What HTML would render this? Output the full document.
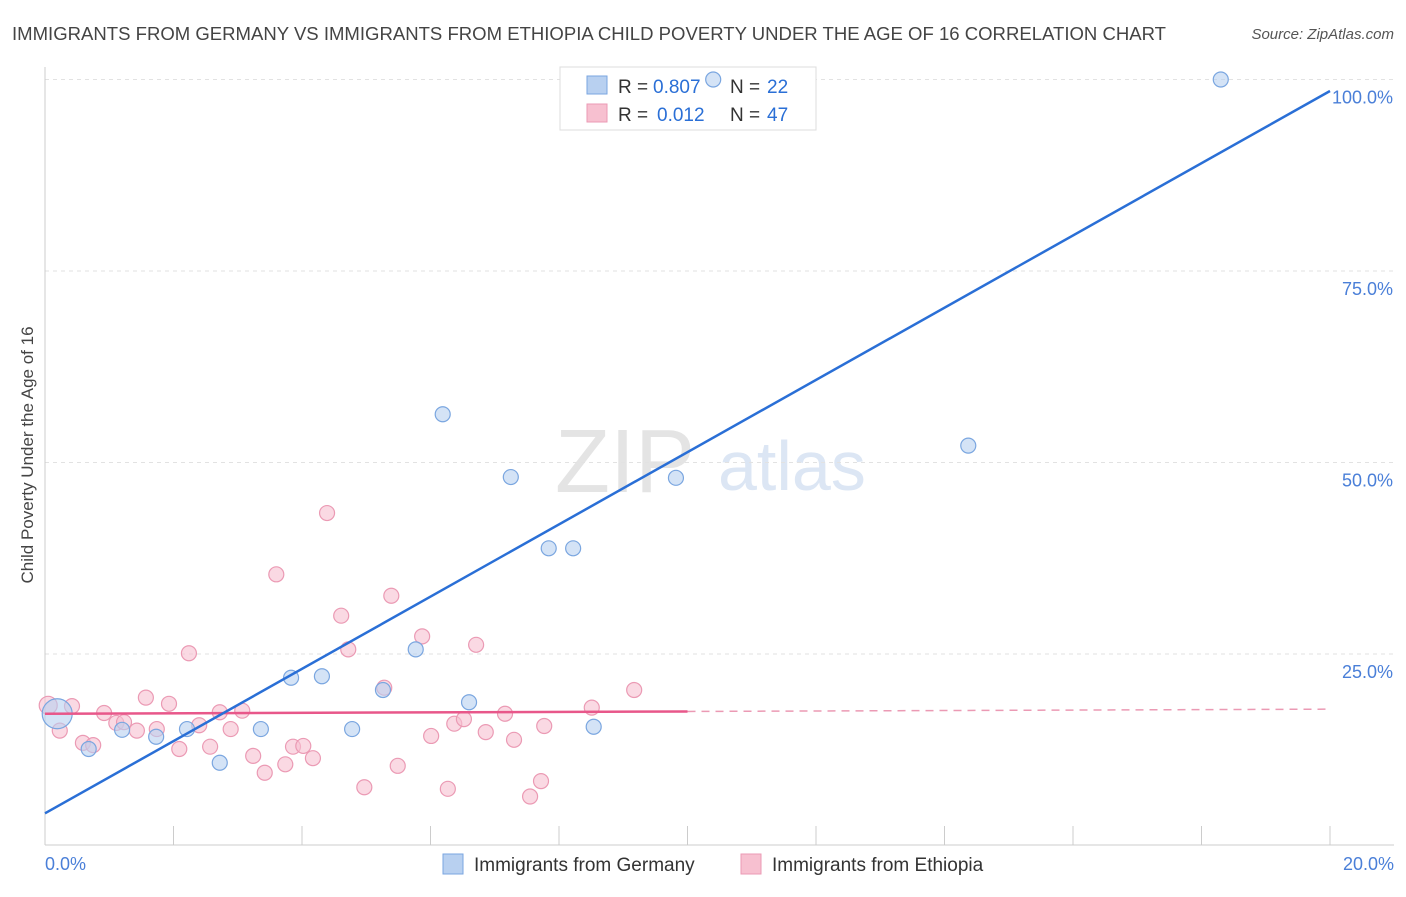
<!DOCTYPE html>
<html><head><meta charset="utf-8">
<style>
body{margin:0;background:#fff;font-family:"Liberation Sans",sans-serif;}
svg text{font-family:"Liberation Sans",sans-serif;}
</style></head>
<body>
<svg id="chart" width="1406" height="892" xmlns="http://www.w3.org/2000/svg">
<text x="12" y="40" font-size="18.6" fill="#444" textLength="1154" lengthAdjust="spacingAndGlyphs">IMMIGRANTS FROM GERMANY VS IMMIGRANTS FROM ETHIOPIA CHILD POVERTY UNDER THE AGE OF 16 CORRELATION CHART</text>
<text x="1394" y="39" font-size="15" fill="#555" text-anchor="end" font-style="italic">Source: ZipAtlas.com</text>
<text transform="translate(33,455) rotate(-90)" font-size="17" fill="#444" text-anchor="middle">Child Poverty Under the Age of 16</text>
<text x="555" y="492" font-size="90" fill="#e4e4e4" font-family="Liberation Serif">ZIP</text>
<text x="718" y="490" font-size="70" fill="#dce6f4">atlas</text>
<g id="grid"></g>
<g>
<rect x="560" y="67" width="256" height="63" fill="#fff" stroke="#ddd"/>
<rect x="587" y="76" width="20" height="18" fill="#b8d0f0" stroke="#7aa6e0"/>
<rect x="587" y="104" width="20" height="18" fill="#f7c0d0" stroke="#eb9ab4"/>
<text x="618" y="93" font-size="19" fill="#333">R =</text>
<text x="653" y="93" font-size="19" fill="#2a6fd6">0.807</text>
<text x="730" y="93" font-size="19" fill="#333">N =</text>
<text x="767" y="93" font-size="19" fill="#2a6fd6">22</text>
<text x="618" y="121" font-size="19" fill="#333">R =</text>
<text x="657" y="121" font-size="19" fill="#2a6fd6">0.012</text>
<text x="730" y="121" font-size="19" fill="#333">N =</text>
<text x="767" y="121" font-size="19" fill="#2a6fd6">47</text>
</g>
<g id="marks"></g>
<g>
<rect x="443" y="854" width="20" height="20" fill="#b8d0f0" stroke="#7aa6e0"/>
<text x="474" y="871" font-size="19" fill="#333">Immigrants from Germany</text>
<rect x="741" y="854" width="20" height="20" fill="#f7c0d0" stroke="#eb9ab4"/>
<text x="772" y="871" font-size="19" fill="#333">Immigrants from Ethiopia</text>
</g>
</svg>
<script>
const yTicks=[25,50,75,100];
const xTicks=[0,2,4,6,8,10,12,14,16,18,20];
const germanyX=[0.19,0.68,1.2,1.73,2.21,2.72,3.36,3.83,4.31,4.78,5.26,5.77,6.19,6.6,7.25,7.84,8.22,8.54,9.82,10.4,14.37,18.3];
const germanyY=[17.2,12.6,15.1,14.2,15.2,10.8,15.2,21.9,22.1,15.2,20.3,25.6,56.3,18.7,48.1,38.8,38.8,15.5,48.0,100,52.2,100];
const ethiopiaX=[0.05,0.23,0.42,0.59,0.75,0.92,1.11,1.23,1.43,1.57,1.74,1.93,2.09,2.24,2.4,2.57,2.72,2.89,3.07,3.24,3.42,3.6,3.74,3.86,4.02,4.17,4.39,4.61,4.72,4.97,5.28,5.39,5.49,5.87,6.01,6.27,6.37,6.52,6.71,6.86,7.16,7.3,7.55,7.72,7.77,8.51,9.17];
const ethiopiaY=[18.3,15.0,18.2,13.4,13.1,17.3,16.0,16.1,15.0,19.3,15.2,18.5,12.6,25.1,15.7,12.9,17.4,15.2,17.6,11.7,9.5,35.4,10.6,12.9,13.0,11.4,43.4,30.0,25.6,7.6,20.6,32.6,10.4,27.3,14.3,7.4,15.9,16.5,26.2,14.8,17.2,13.8,6.4,8.4,15.6,18.0,20.3];
const germanyLine=[4.2,98.5];
const ethiopiaLine=[17.2,17.8];
const NS="http://www.w3.org/2000/svg";
const sx=v=>45+v*64.25, sy=v=>845.5-v*7.66;
const grid=document.getElementById('grid'), marks=document.getElementById('marks');
function mk(tag,attrs,parent){const e=document.createElementNS(NS,tag);for(const k in attrs)e.setAttribute(k,attrs[k]);parent.appendChild(e);return e;}
yTicks.forEach(t=>{
  const l=mk('line',{x1:45,x2:1394,y1:sy(t),y2:sy(t),stroke:'#e2e2e2','stroke-dasharray':'4,4'},grid);
  
  
  const tx=mk('text',{x:1393,y:sy(t)+24,'font-size':18,fill:'#4a7fd8','text-anchor':'end'},grid);
  tx.textContent=t.toFixed(1)+'%';
  
  
});
const xa=mk('line',{x1:45,x2:1394,y1:845,y2:845,stroke:'#ccc'},grid);


const ya=mk('line',{x1:45,x2:45,y1:67,y2:845,stroke:'#ccc'},grid);


xTicks.forEach(t=>{
  const l=mk('line',{x1:sx(t),x2:sx(t),y1:826,y2:845,stroke:'#ccc'},grid);
  
  
});
[[0,'0.0%','start',45],[20,'20.0%','end',1394]].forEach(d=>{
  const tx=mk('text',{x:d[3],y:870,'font-size':18,fill:'#4a7fd8','text-anchor':d[2]},grid);
  tx.textContent=d[1];
  
  
});
ethiopiaX.forEach((x,i)=>{
  const c=mk('circle',{cx:sx(x),cy:sy(ethiopiaY[i]),r:i==0?9:7.5,fill:'#f7c0d0','fill-opacity':0.6,stroke:'#eb9ab4','stroke-width':1.2},marks);
  
  
});
germanyX.forEach((x,i)=>{
  const c=mk('circle',{cx:sx(x),cy:sy(germanyY[i]),r:i==0?15:7.5,fill:'#b8d0f0','fill-opacity':0.6,stroke:'#7aa6e0','stroke-width':1.2},marks);
  
  
});
const e1=mk('line',{x1:sx(0),y1:sy(ethiopiaLine[0]),x2:sx(10),y2:sy(ethiopiaLine[0]+(ethiopiaLine[1]-ethiopiaLine[0])/2),stroke:'#e8578a','stroke-width':2.5},marks);


const e2=mk('line',{x1:sx(10),y1:sy(ethiopiaLine[0]+(ethiopiaLine[1]-ethiopiaLine[0])/2),x2:sx(20),y2:sy(ethiopiaLine[1]),stroke:'#eb9ab4','stroke-width':1.5,'stroke-dasharray':'8,6'},marks);


const g1=mk('line',{x1:sx(0),y1:sy(germanyLine[0]),x2:sx(20),y2:sy(germanyLine[1]),stroke:'#2a6fd6','stroke-width':2.5},marks);


</script>
</body></html>
